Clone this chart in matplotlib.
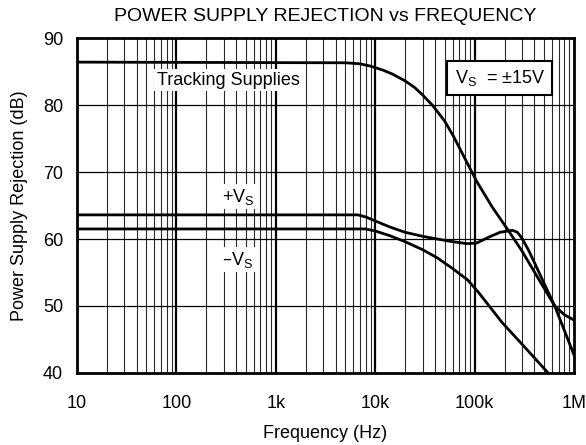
#!/usr/bin/env python3
"""
Power supply rejection vs frequency plot (log frequency axis).
"""

import matplotlib
matplotlib.use('Agg')  # Use non-interactive backend
import matplotlib.pyplot as plt
from matplotlib.ticker import FixedLocator, NullFormatter

plt.rcParams['font.family'] = ['Liberation Sans', 'DejaVu Sans']

# Tracking supplies curve (Hz, dB)
freq_track = [10, 5000, 7000, 9000, 12000, 15000, 20000, 25000, 30000, 38000,
              50000, 61000, 80000, 105000, 150000, 225000, 300000, 450000,
              640000, 800000, 1000000]
psr_track = [86.4, 86.3, 86.15, 85.8, 85.2, 84.6, 83.6, 82.6, 81.5, 79.9,
             77.6, 75.4, 72.0, 68.6, 64.8, 61.0, 58.2, 53.8,
             50.0, 48.7, 47.9]

# +Vs curve
freq_pos = [10, 6700, 8000, 10000, 14000, 20000, 30000, 42000, 60000, 85000,
            105000, 140000, 180000, 240000, 270000, 300000, 350000, 420000,
            640000, 1000000]
psr_pos = [63.6, 63.6, 63.3, 62.7, 61.8, 61.0, 60.4, 60.0, 59.6, 59.3,
           59.4, 60.3, 61.0, 61.3, 61.0, 60.1, 58.3, 55.8, 50.0, 42.7]

# -Vs curve
freq_neg = [10, 8000, 10000, 14000, 20000, 30000, 42000, 60000, 85000,
            110000, 190000, 300000, 550000]
psr_neg = [61.5, 61.5, 61.2, 60.5, 59.6, 58.4, 57.2, 55.6, 53.9,
           52.0, 47.5, 44.3, 40.0]

x_ticks = [10, 100, 1e3, 1e4, 1e5, 1e6]
x_tick_labels = ['10', '100', '1k', '10k', '100k', '1M']
y_ticks = [40, 50, 60, 70, 80, 90]

fig = plt.figure(figsize=(5.86, 4.45), dpi=100)
ax = fig.add_axes([0.1314, 0.1618, 0.8481, 0.7528])

ax.set_xscale('log')
ax.set_xlim(10, 1e6)
ax.set_ylim(40, 90)

# Grid: thick decade lines, thin minor lines, thin horizontal lines
minor = [m * d for d in [10, 100, 1e3, 1e4, 1e5] for m in range(2, 10)]
for f in minor:
    ax.axvline(f, color='#2a2a2a', lw=0.8, zorder=1)
for f in x_ticks[1:-1]:
    ax.axvline(f, color='black', lw=1.6, zorder=1)
for y in y_ticks[1:-1]:
    ax.axhline(y, color='black', lw=0.9, zorder=1)

ax.plot(freq_track, psr_track, color='black', lw=2, zorder=3)
ax.plot(freq_pos, psr_pos, color='black', lw=2, zorder=3)
ax.plot(freq_neg, psr_neg, color='black', lw=2, zorder=3)

ax.xaxis.set_major_locator(FixedLocator(x_ticks))
ax.xaxis.set_minor_locator(FixedLocator(minor))
ax.xaxis.set_minor_formatter(NullFormatter())
ax.set_xticklabels(x_tick_labels)
ax.set_yticks(y_ticks)
ax.tick_params(which='both', length=0, labelsize=13)
ax.tick_params(axis='x', pad=16)
ax.tick_params(axis='y', pad=10)

for sp in ax.spines.values():
    sp.set_linewidth(2)

ax.set_xlabel('Frequency (Hz)', fontsize=13, labelpad=9)
ax.set_ylabel('Power Supply Rejection (dB)', fontsize=13, labelpad=11)
ax.set_title('POWER SUPPLY REJECTION vs FREQUENCY', fontsize=14, pad=12)

box = dict(facecolor='white', edgecolor='none', pad=2)
ax.text(64, 83.7, 'Tracking Supplies', fontsize=13, va='center', ha='left',
        bbox=box, zorder=4)
ax.text(290, 66.3, '+V$_\\mathregular{S}$', fontsize=13, va='center',
        ha='left', bbox=box, zorder=4)
ax.text(290, 56.9, '\u2013V$_\\mathregular{S}$', fontsize=13, va='center',
        ha='left', bbox=box, zorder=4)
ax.text(6.3e4, 84.0, 'V$_\\mathregular{S}$  = \u00b115V', fontsize=13,
        va='center', ha='left', zorder=4,
        bbox=dict(facecolor='white', edgecolor='black', lw=1.5,
                  boxstyle='square,pad=0.4'))

plt.savefig('out.png', dpi=100)
plt.close()
